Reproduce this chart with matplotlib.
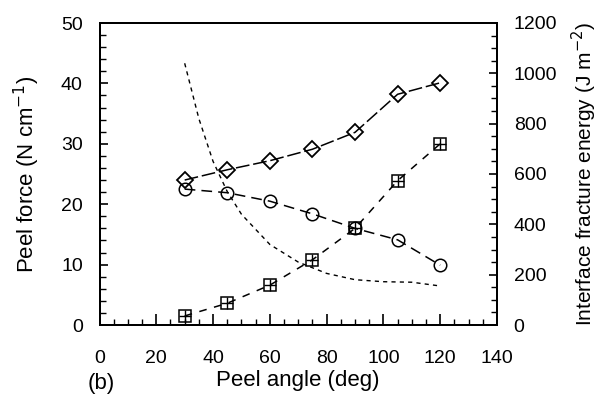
import matplotlib.pyplot as plt
from matplotlib.ticker import MultipleLocator

plt.rcParams["font.family"] = ["Liberation Sans", "DejaVu Sans"]

# Peel test results
angles = [30, 45, 60, 75, 90, 105, 120]
force_diamond = [24.0, 25.7, 27.2, 29.1, 31.9, 38.2, 40.1]
force_circle = [22.5, 21.9, 20.5, 18.4, 16.0, 14.1, 9.9]
force_square = [1.5, 3.6, 6.6, 10.8, 16.0, 23.9, 30.0]

# Interface fracture energy curve
energy_angles = [30, 35, 40, 45, 50, 60, 70, 80, 90, 100, 110, 120]
energy = [1040, 820, 650, 530, 440, 320, 250, 205, 180, 172, 170, 155]


def main():
    fig = plt.figure(figsize=(6.01, 4.0), dpi=100)
    ax = fig.add_axes([99.5 / 601, 75 / 400, 397.5 / 601, 302 / 400])
    ax2 = ax.twinx()

    ax.plot(angles, force_diamond, color="black", lw=1.1, dashes=(9, 2.5),
            marker="D", ms=8, mfc="none", mec="black", mew=1.3)
    ax.plot(angles, force_circle, color="black", lw=1.1, dashes=(7, 4),
            marker="o", ms=9, mfc="none", mec="black", mew=1.1)
    ax.plot(angles, force_square, color="black", lw=1.1, dashes=(5, 5),
            marker="s", ms=9, mfc="none", mec="black", mew=1.1)
    ax.plot(angles, force_square, ls="none",
            marker="+", ms=9, mec="black", mew=1.0)

    ax2.plot(energy_angles, energy, color="black", lw=1.0, dashes=(3, 3))

    ax.set_xlim(0, 140)
    ax.set_ylim(0, 50)
    ax2.set_ylim(0, 1200)

    ax.xaxis.set_major_locator(MultipleLocator(20))
    ax.xaxis.set_minor_locator(MultipleLocator(5))
    ax.yaxis.set_major_locator(MultipleLocator(10))
    ax.yaxis.set_minor_locator(MultipleLocator(2))
    ax2.yaxis.set_major_locator(MultipleLocator(200))
    ax2.yaxis.set_minor_locator(MultipleLocator(50))

    ax.tick_params(axis="x", which="major", direction="in", length=8,
                   width=1.2, labelsize=14, pad=18)
    ax.tick_params(axis="y", which="major", direction="in", length=6,
                   width=1.2, labelsize=14, pad=12)
    ax.tick_params(axis="both", which="minor", direction="in", length=4,
                   width=1.0)
    ax2.tick_params(axis="y", which="major", direction="in", length=6,
                    width=1.2, labelsize=14, pad=12)
    ax2.tick_params(axis="y", which="minor", direction="in", length=4,
                    width=1.0)

    for spine in ax.spines.values():
        spine.set_linewidth(1.4)
    for spine in ax2.spines.values():
        spine.set_linewidth(1.4)

    ax.set_xlabel("Peel angle (deg)", fontsize=16, labelpad=2)
    ax.set_ylabel("Peel force (N cm$^{-1}$)", fontsize=16, labelpad=14)
    ax2.set_ylabel("Interface fracture energy (J m$^{-2}$)", fontsize=15,
                   labelpad=9)

    fig.text(101 / 601, 1 - 383 / 400, "(b)", fontsize=16,
             ha="center", va="center")

    fig.savefig("out.png", dpi=100)


if __name__ == "__main__":
    main()
